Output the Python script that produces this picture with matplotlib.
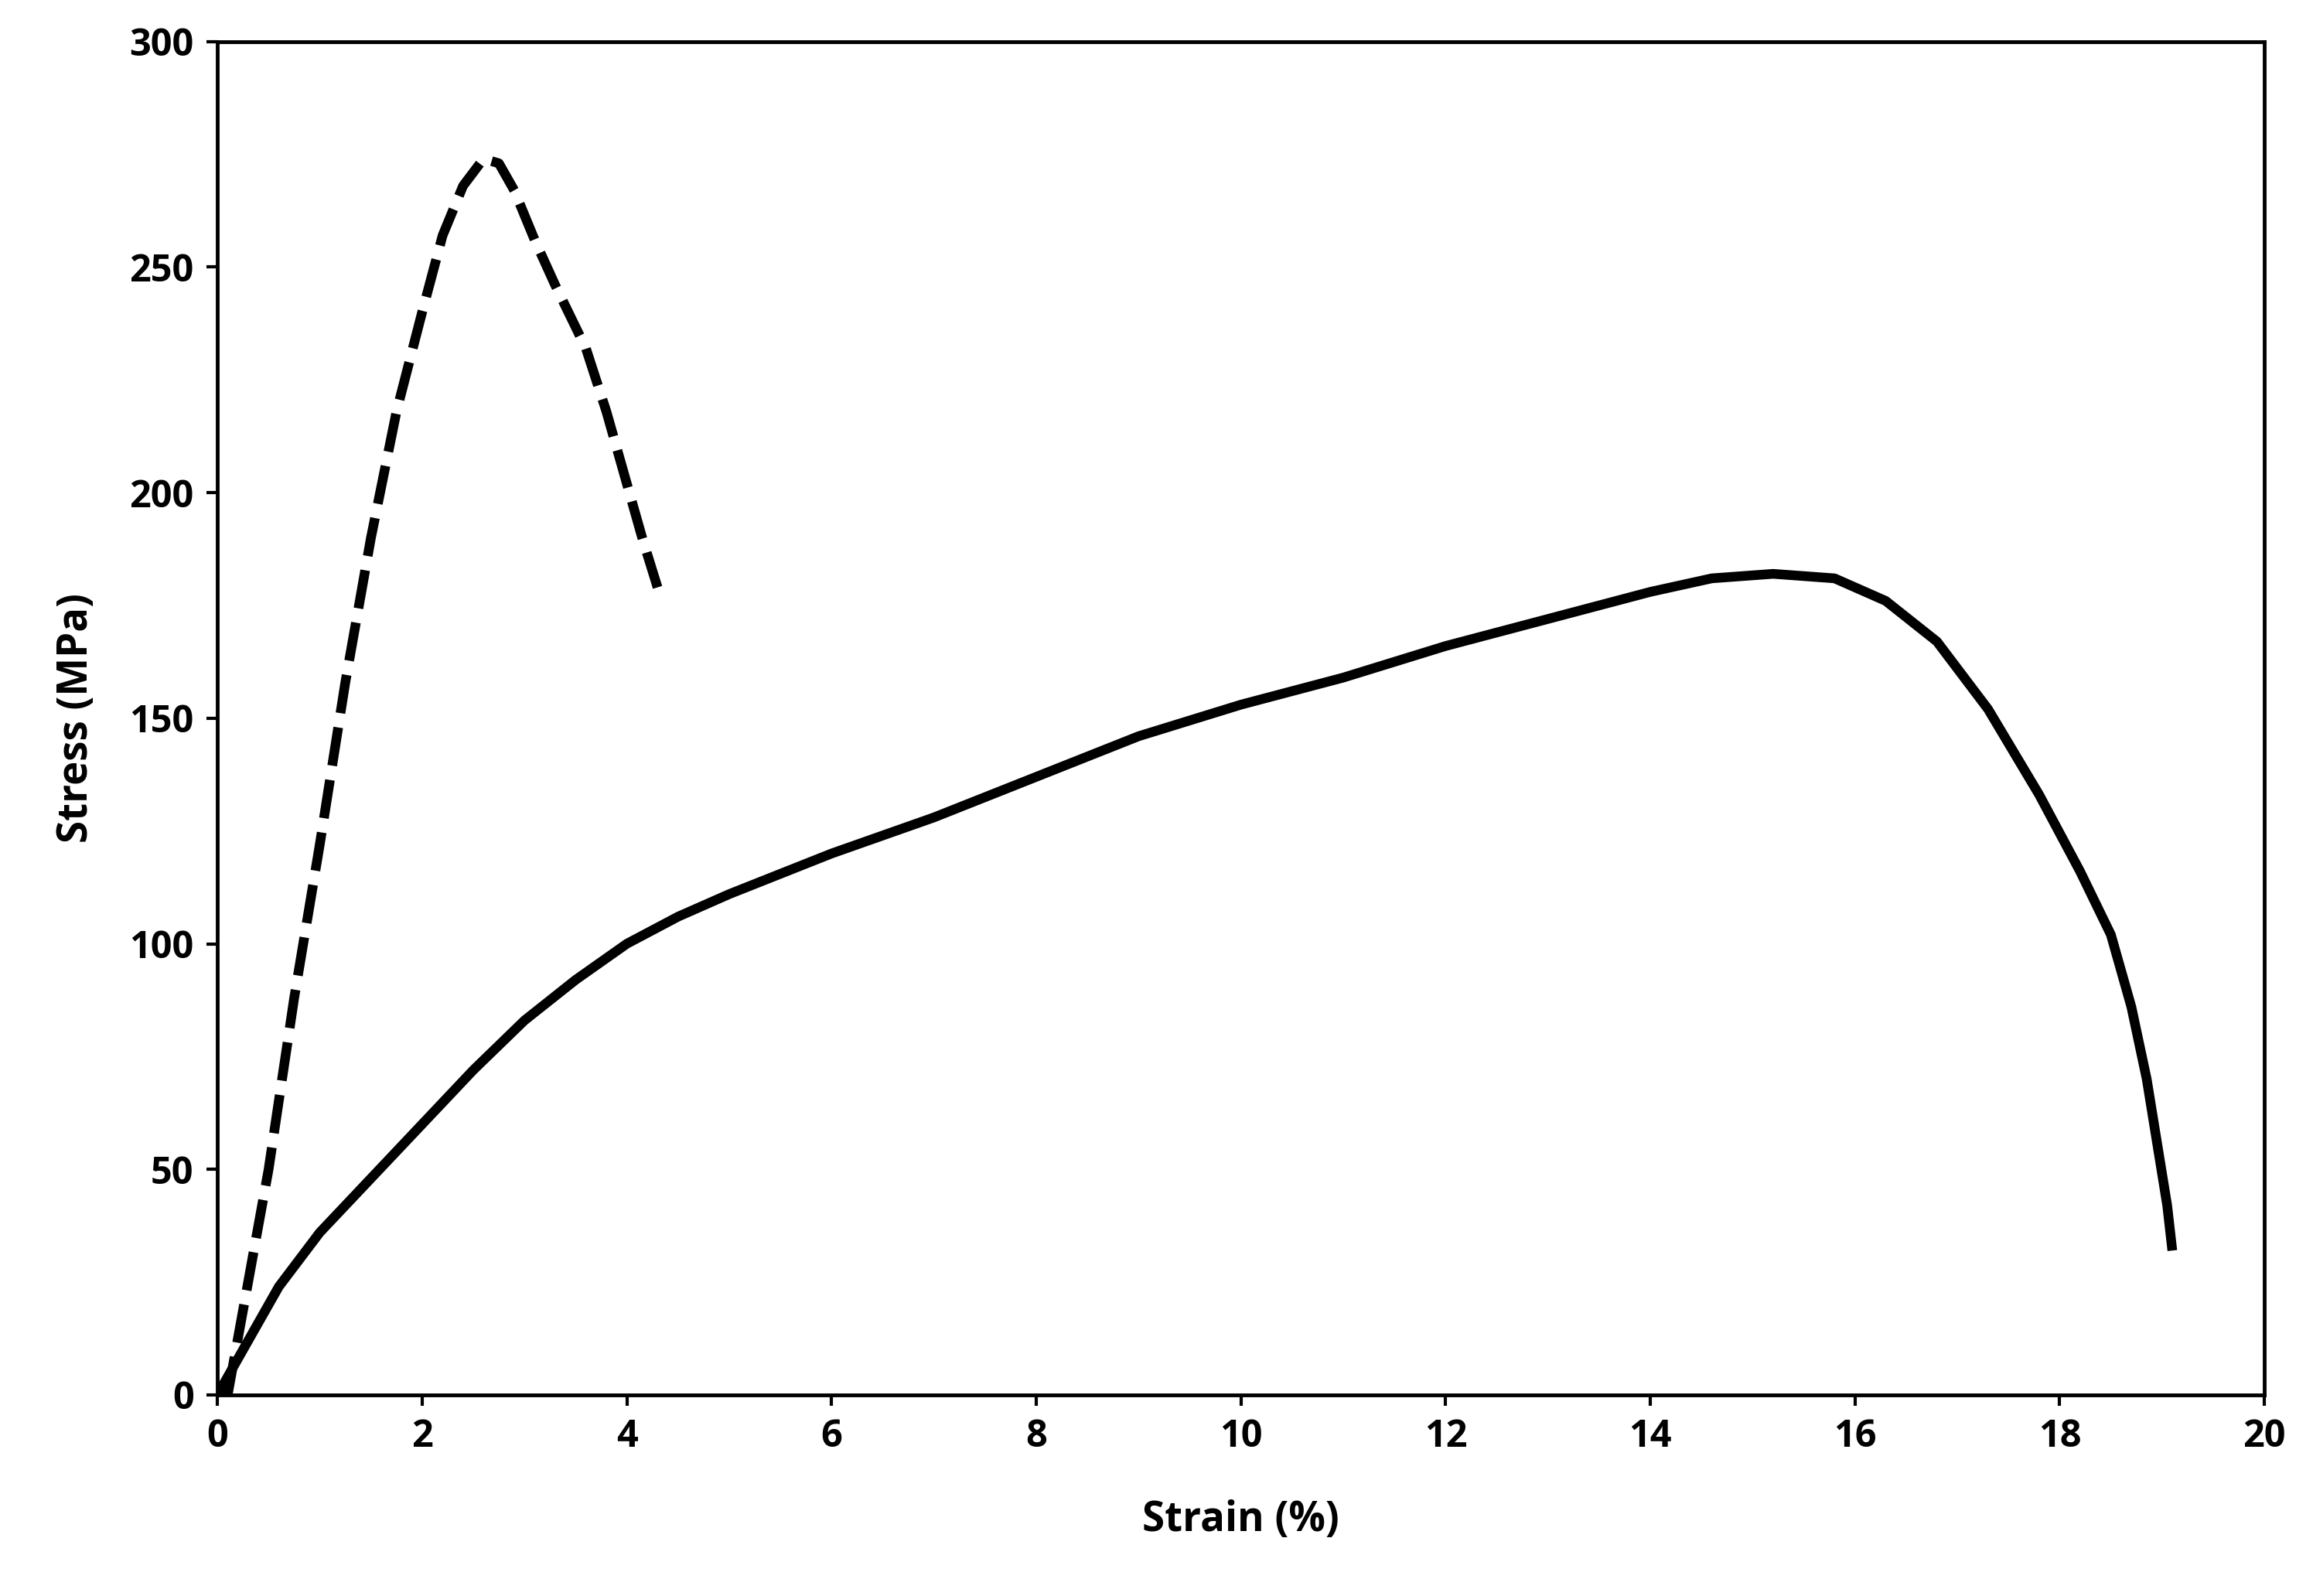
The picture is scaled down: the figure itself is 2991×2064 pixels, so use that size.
import matplotlib
matplotlib.use("Agg")
import matplotlib.pyplot as plt

dash_x = [0.1, 0.3, 0.5, 0.75, 1.0, 1.25, 1.5, 1.75, 2.0, 2.2, 2.4, 2.6, 2.75, 2.9, 3.1, 3.3, 3.6, 3.8, 4.0, 4.15, 4.3]
dash_y = [0, 25, 50, 88, 122, 158, 190, 218, 240, 257, 268, 274, 273, 267, 256, 246, 232, 218, 202, 190, 179]
solid_x = [0.0, 0.3, 0.6, 1.0, 1.5, 2.0, 2.5, 3.0, 3.5, 4.0, 4.5, 5.0, 6.0, 7.0, 8.0, 9.0, 10.0, 11.0, 12.0, 13.0, 14.0, 14.6, 15.2, 15.8, 16.3, 16.8, 17.3, 17.8, 18.2, 18.5, 18.7, 18.85, 18.95, 19.05, 19.1]
solid_y = [0, 12, 24, 36, 48, 60, 72, 83, 92, 100, 106, 111, 120, 128, 137, 146, 153, 159, 166, 172, 178, 181, 182, 181, 176, 167, 152, 133, 116, 102, 86, 70, 56, 42, 32]

plt.rcParams['font.family'] = ['Open Sans', 'DejaVu Sans']
plt.rcParams['font.weight'] = 'bold'
fig = plt.figure(figsize=(29.91, 20.64), dpi=100)
ax = fig.add_axes([0.094, 0.126, 0.885, 0.848])
ax.plot(dash_x, dash_y, color='black', lw=9, ls=(0, (4, 1.5)), solid_joinstyle='round')
ax.plot(solid_x, solid_y, color='black', lw=9, solid_capstyle='butt', solid_joinstyle='round')
ax.set_xlim(0, 20)
ax.set_ylim(0, 300)
ax.set_xticks(range(0, 21, 2))
ax.set_yticks(range(0, 301, 50))
ax.tick_params(labelsize=35, width=3, length=10, direction='out', pad=12)
for lab in ax.get_xticklabels() + ax.get_yticklabels():
    lab.set_fontweight('bold')
for s in ax.spines.values():
    s.set_linewidth(3.5)
ax.set_xlabel('Strain (%)', fontsize=38, fontweight='bold', labelpad=40)
ax.set_ylabel('Stress (MPa)', fontsize=38, fontweight='bold', labelpad=30)
fig.savefig('out.png', dpi=100)
